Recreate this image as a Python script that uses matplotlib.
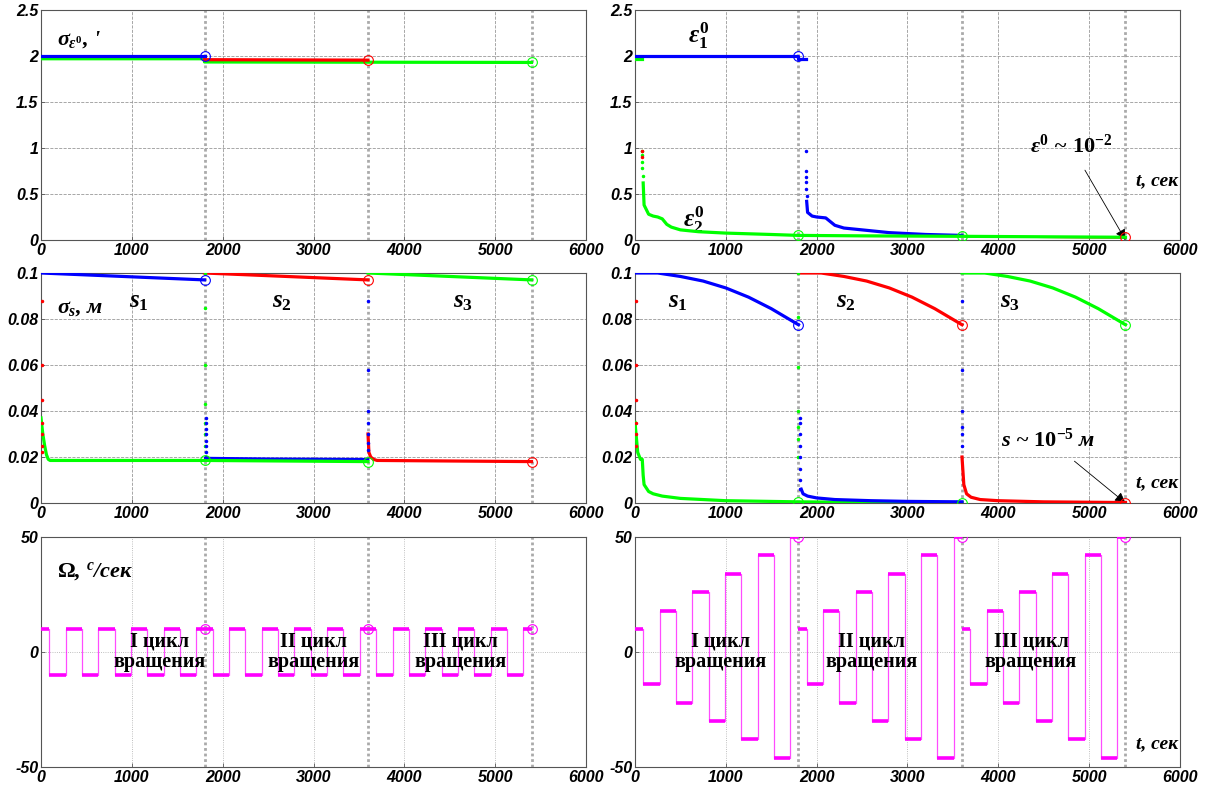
import matplotlib
matplotlib.use('Agg')
import matplotlib.pyplot as plt
import numpy as np

plt.rcParams['mathtext.fontset'] = 'custom'
plt.rcParams['mathtext.it'] = 'Liberation Serif:italic:bold'
plt.rcParams['mathtext.rm'] = 'Liberation Serif:bold'
plt.rcParams['mathtext.bf'] = 'Liberation Serif:bold'

BLUE, RED, GREEN, MAG = '#0000ff', '#ff0000', '#00ff00', '#ff00ff'

# ---- data: top-left, sigma eps0 ----
e0_blue_t, e0_blue = [0, 1800], [2.0, 2.0]
e0_red_t, e0_red = [1800, 3600], [1.96, 1.955]
e0_green_t, e0_green = [0, 1800, 1800, 5400], [1.97, 1.97, 1.935, 1.93]

# ---- data: top-right, eps1 / eps2 ----
eps1_t, eps1 = [0, 1800, 1800, 1880], [2.0, 2.0, 1.97, 1.97]
eps_gstart_t, eps_gstart = [0, 80], [1.97, 1.97]
eps2_t = [90, 100, 150, 200, 250, 300, 350, 400, 500, 700, 1000, 1500, 1800, 2500, 3600, 4500, 5400]
eps2 = [0.62, 0.38, 0.28, 0.26, 0.25, 0.23, 0.17, 0.14, 0.11, 0.09, 0.075, 0.06, 0.05, 0.045, 0.04, 0.035, 0.03]
eps2_pts_t = [80, 80, 80, 80, 85]
eps2_pts = [0.97, 0.92, 0.85, 0.78, 0.7]
eps_red_pts_t, eps_red_pts = [78, 78], [0.97, 0.9]
eps_blue2_pts_t = [1880, 1882, 1884, 1886, 1888, 1890]
eps_blue2_pts = [0.97, 0.75, 0.68, 0.63, 0.55, 0.48]
eps_blue2_t = [1890, 1900, 1950, 2000, 2100, 2150, 2200, 2300, 2500, 2800, 3200, 3600]
eps_blue2 = [0.42, 0.3, 0.26, 0.25, 0.24, 0.2, 0.16, 0.13, 0.11, 0.08, 0.06, 0.05]
eps_red3_t, eps_red3 = [3600, 4500, 5400], [0.04, 0.03, 0.022]

# ---- data: middle-left, sigma s ----
ss_t = [0, 1800]
ss_upper = [0.1, 0.097]
ssl_green_t = [0, 20, 40, 60, 80, 100, 200, 1800, 3600]
ssl_green = [0.037, 0.03, 0.025, 0.021, 0.019, 0.0185, 0.0185, 0.0185, 0.018]
ssl_red0_pts = [0.088, 0.06, 0.045, 0.035, 0.03, 0.025, 0.022]
ssl_green1_pts = [0.1, 0.085, 0.06, 0.043, 0.035, 0.03, 0.025]
ssl_blue1_pts = [0.037, 0.035, 0.032, 0.03, 0.027, 0.025, 0.022, 0.02]
ssl_blue_t, ssl_blue = [1810, 2500, 3600], [0.0195, 0.0192, 0.019]
ssl_blue2_pts = [0.088, 0.058, 0.04, 0.035, 0.03, 0.026, 0.023]
ssl_red_t = [3600, 3610, 3630, 3660, 3700, 5400]
ssl_red = [0.03, 0.022, 0.02, 0.019, 0.0185, 0.018]

# ---- data: middle-right, s ----
s_rel_t = [0, 250, 500, 750, 1000, 1250, 1500, 1800]
s_curve = [0.1, 0.1, 0.0985, 0.0965, 0.0935, 0.0895, 0.0845, 0.0775]
sl_green_t = [0, 30, 60, 80, 90, 100, 150, 200, 300, 500, 1000, 1800, 2500, 3600]
sl_green = [0.035, 0.022, 0.019, 0.019, 0.012, 0.008, 0.005, 0.004, 0.003, 0.002, 0.001, 0.0005, 0.0003, 0.0002]
sl_red0_pts = [0.088, 0.06, 0.045, 0.035, 0.03, 0.025]
sl_green1_pts = [0.1, 0.081, 0.059, 0.04, 0.033, 0.028, 0.02]
sl_blue1_pts = [0.037, 0.035, 0.03, 0.025, 0.02, 0.015, 0.01, 0.006]
sl_blue_t = [1830, 1850, 1900, 2000, 2200, 2600, 3000, 3600]
sl_blue = [0.006, 0.004, 0.003, 0.0022, 0.0015, 0.001, 0.0007, 0.0005]
sl_blue2_pts = [0.088, 0.058, 0.04, 0.033, 0.03, 0.025]
sl_red_t = [3600, 3620, 3650, 3700, 3800, 4000, 4500, 5400]
sl_red = [0.02, 0.008, 0.004, 0.0025, 0.0015, 0.001, 0.0005, 0.0002]

# ---- data: bottom, Omega ----
om_edges = [0, 90, 270, 450, 630, 810, 990, 1170, 1350, 1530, 1710, 1800]
om_const = [10, -10, 10, -10, 10, -10, 10, -10, 10, -10, 10]
om_grow = [10, -14, 18, -22, 26, -30, 34, -38, 42, -46, 50]
cycles = [0, 1800, 3600]
cycle_ends = [1800, 3600, 5400]

W, H = 1222, 796
fig = plt.figure(figsize=(W / 100, H / 100), dpi=100)


def make_ax(x0, top, bottom, w=545):
    return fig.add_axes([x0 / W, 1 - bottom / H, w / W, (bottom - top) / H])


def style(ax, ylim, yticks, yfmt, grid_ls='--', grid_c='#999999'):
    ax.set_xlim(0, 6000)
    ax.set_ylim(*ylim)
    ax.set_xticks(range(0, 6001, 1000))
    ax.set_yticks(yticks)
    ax.set_yticklabels([yfmt(v) for v in yticks])
    for lab in ax.get_xticklabels() + ax.get_yticklabels():
        lab.set_fontfamily('Liberation Sans')
        lab.set_fontweight('bold')
        lab.set_fontstyle('italic')
        lab.set_fontsize(11.5)
    ax.tick_params(direction='in', length=3, width=0.6, colors='#555555', labelcolor='black', pad=2)
    ax.grid(True, ls=grid_ls, color=grid_c, lw=0.6)
    for sp in ax.spines.values():
        sp.set_color('#555555')
        sp.set_linewidth(0.8)
    for t in cycle_ends:
        ax.axvline(t, color='#aaaaaa', ls=(0, (1, 1)), lw=2.0, zorder=1)


def circ(ax, x, y, c):
    ax.plot([x], [y], 'o', mfc='none', mec=c, ms=7, mew=0.8, zorder=5)


serif = dict(family='Liberation Serif', style='italic', weight='bold')
fmt1 = lambda v: ('%g' % v)

# top-left
ax = make_ax(41, 10, 240)
style(ax, (0, 2.5), [0, 0.5, 1, 1.5, 2, 2.5], fmt1)
ax.plot(e0_green_t, e0_green, color=GREEN, lw=2.3, zorder=3)
ax.plot(e0_red_t, e0_red, color=RED, lw=2.3, zorder=3)
ax.plot(e0_blue_t, e0_blue, color=BLUE, lw=2.3, zorder=4)
circ(ax, e0_blue_t[-1], e0_blue[-1], BLUE)
circ(ax, e0_red_t[-1], e0_red[-1], RED)
circ(ax, e0_green_t[-1], e0_green[-1], GREEN)
ax.text(0.03, 0.85, r"$\sigma_{\varepsilon^{0}}$, '", transform=ax.transAxes, fontsize=16, **serif)

# top-right
ax = make_ax(635, 10, 240)
style(ax, (0, 2.5), [0, 0.5, 1, 1.5, 2, 2.5], fmt1)
ax.plot(eps_gstart_t, eps_gstart, color=GREEN, lw=2.3, zorder=3)
ax.plot(eps1_t, eps1, color=BLUE, lw=2.3, zorder=4)
ax.plot(eps_red3_t, eps_red3, color=RED, lw=1.2, zorder=3)
ax.plot(eps2_t, eps2, color=GREEN, lw=2.3, zorder=4)
ax.plot(eps2_pts_t, eps2_pts, '.', color=GREEN, ms=3, zorder=4)
ax.plot(eps_red_pts_t, eps_red_pts, '.', color=RED, ms=3, zorder=4)
ax.plot(eps_blue2_pts_t, eps_blue2_pts, '.', color=BLUE, ms=3, zorder=4)
ax.plot(eps_blue2_t, eps_blue2, color=BLUE, lw=2.3, zorder=3)
circ(ax, 1800, 2.0, BLUE)
circ(ax, 1800, 0.05, GREEN)
circ(ax, 3600, 0.04, GREEN)
circ(ax, 5400, 0.03, RED)
ax.text(700, 2.22, r"$\varepsilon_{1}^{0}$", fontsize=18, ha='center', va='center', **serif)
ax.text(650, 0.22, r"$\varepsilon_{2}^{0}$", fontsize=18, ha='center', va='center', **serif)
ax.annotate(r"$\varepsilon^{0}$ ~ $10^{-2}$", xy=(5400, 0), xytext=(4800, 1.02),
            ha='center', va='center', fontsize=16, fontfamily='Liberation Serif',
            fontweight='bold', fontstyle='italic',
            arrowprops=dict(arrowstyle='-|>', color='black', lw=0.6, shrinkA=8, shrinkB=0))
ax.text(5980, 0.64, 't, сек', ha='right', va='center', fontsize=14, **serif)

# middle-left
fmt2 = lambda v: '0' if v == 0 else ('%g' % v)
ax = make_ax(41, 273, 503)
style(ax, (0, 0.1), [0, 0.02, 0.04, 0.06, 0.08, 0.1], fmt2)
for off, c in zip(cycles, [BLUE, RED, GREEN]):
    ax.plot(np.add(ss_t, off), ss_upper, color=c, lw=2.3, zorder=3)
    circ(ax, ss_t[-1] + off, ss_upper[-1], c)
ax.plot(ssl_green_t, ssl_green, color=GREEN, lw=2.3, zorder=4)
ax.plot(ssl_blue_t, ssl_blue, color=BLUE, lw=2.0, zorder=3)
ax.plot(ssl_red_t, ssl_red, color=RED, lw=2.3, zorder=4)
ax.plot([8] * len(ssl_red0_pts), ssl_red0_pts, '.', color=RED, ms=3, zorder=4)
ax.plot([1800] * len(ssl_green1_pts), ssl_green1_pts, '.', color=GREEN, ms=3, zorder=4)
ax.plot([1812] * len(ssl_blue1_pts), ssl_blue1_pts, '.', color=BLUE, ms=3, zorder=4)
ax.plot([3605] * len(ssl_blue2_pts), ssl_blue2_pts, '.', color=BLUE, ms=3, zorder=4)
circ(ax, 1800, 0.0185, GREEN)
circ(ax, 3600, 0.018, GREEN)
circ(ax, 5400, 0.018, RED)
ax.text(0.03, 0.83, r"$\sigma_{s}$, м", transform=ax.transAxes, fontsize=16, **serif)
for x, lab in zip([1080, 2650, 4650], ['1', '2', '3']):
    ax.text(x, 0.0875, r"$s_{%s}$" % lab, fontsize=18, ha='center', va='center', **serif)

# middle-right
ax = make_ax(635, 273, 503)
style(ax, (0, 0.1), [0, 0.02, 0.04, 0.06, 0.08, 0.1], fmt2)
for off, c in zip(cycles, [BLUE, RED, GREEN]):
    ax.plot(np.add(s_rel_t, off), s_curve, color=c, lw=2.3, zorder=3)
    circ(ax, s_rel_t[-1] + off, s_curve[-1], c)
ax.plot(sl_green_t, sl_green, color=GREEN, lw=2.3, zorder=3)
ax.plot(sl_blue_t, sl_blue, color=BLUE, lw=2.3, zorder=4)
ax.plot(sl_red_t, sl_red, color=RED, lw=2.3, zorder=4)
ax.plot([8] * len(sl_red0_pts), sl_red0_pts, '.', color=RED, ms=3, zorder=4)
ax.plot([1800] * len(sl_green1_pts), sl_green1_pts, '.', color=GREEN, ms=3, zorder=4)
ax.plot([1812] * len(sl_blue1_pts), sl_blue1_pts, '.', color=BLUE, ms=3, zorder=4)
ax.plot([3605] * len(sl_blue2_pts), sl_blue2_pts, '.', color=BLUE, ms=3, zorder=4)
circ(ax, 1800, 0.0005, GREEN)
circ(ax, 3600, 0.0002, GREEN)
circ(ax, 5400, 0.0002, RED)
for x, lab in zip([470, 2320, 4130], ['1', '2', '3']):
    ax.text(x, 0.0875, r"$s_{%s}$" % lab, fontsize=18, ha='center', va='center', **serif)
ax.annotate(r"s ~ $10^{-5}$ м", xy=(5400, 0), xytext=(4550, 0.0275),
            ha='center', va='center', fontsize=16, fontfamily='Liberation Serif',
            fontweight='bold', fontstyle='italic',
            arrowprops=dict(arrowstyle='-|>', color='black', lw=0.6, shrinkA=8, shrinkB=0))
ax.text(5980, 0.0088, 't, сек', ha='right', va='center', fontsize=14, **serif)

# bottom row
fmt3 = lambda v: '%d' % v
for x0, levels, labx in [(41, om_const, [1300, 3000, 4620]), (635, om_grow, [940, 2600, 4360])]:
    ax = make_ax(x0, 537, 767)
    style(ax, (-50, 50), [-50, 0, 50], fmt3, grid_ls=':', grid_c='#aaaaaa')
    for off in cycles:
        e = np.add(om_edges, off)
        ax.step(e, list(levels) + [levels[-1]], where='post', color=MAG, lw=0.9, alpha=0.7, zorder=3)
        ax.hlines(levels, e[:-1], e[1:], color=MAG, lw=2.6, zorder=4)
    for off in cycle_ends:
        circ(ax, off, levels[-1], MAG)
    for x, lab in zip(labx, ['I', 'II', 'III']):
        ax.text(x, 0, lab + ' цикл\nвращения', ha='center', va='center', fontsize=14.5,
                family='Liberation Serif', weight='bold', linespacing=1.0, zorder=6)
    if x0 == 41:
        ax.text(0.03, 0.83, r"$\Omega$, $^{c}$/сек", transform=ax.transAxes, fontsize=16, **serif)
    else:
        ax.text(5980, -40, 't, сек', ha='right', va='center', fontsize=14, **serif)

fig.savefig('out.png', dpi=100)
